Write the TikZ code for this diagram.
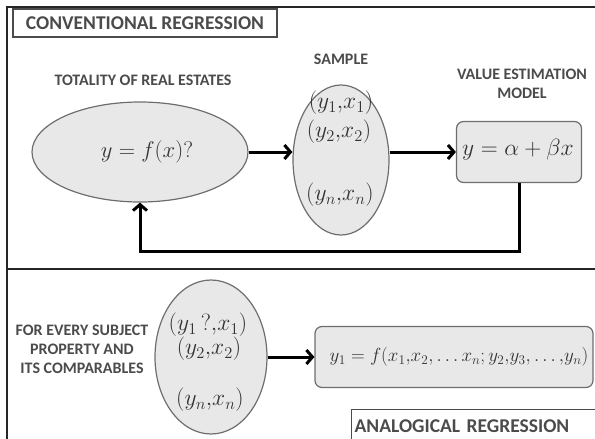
\RequirePackage{fix-cm}
\documentclass[tikz,border=0pt]{standalone}
\usepackage{fontspec}
\setmainfont{Carlito}
\usetikzlibrary{arrows.meta,shapes.geometric}
\definecolor{shade}{RGB}{232,232,232}
\definecolor{edge}{RGB}{110,110,110}
\definecolor{ink}{RGB}{75,75,75}
\definecolor{mink}{RGB}{50,50,50}
\begin{document}
\begin{tikzpicture}[x=1pt,y=-1pt,
  lbl/.style={font=\fontsize{16}{19}\selectfont\bfseries, text=ink, align=center},
  ttl/.style={font=\fontsize{19.5}{22}\selectfont\bfseries, text=ink, draw=ink, line width=1.2pt, inner sep=0pt},
  ell/.style={ellipse, draw=edge, fill=shade, line width=1.2pt, inner sep=0pt},
  rbox/.style={rounded corners=7pt, draw=edge, fill=shade, line width=1.2pt, inner sep=0pt},
  mth/.style={font=\fontsize{22.6}{26}\selectfont, text=mink},
  smth/.style={font=\fontsize{23.5}{26}\selectfont, text=mink},
  arr/.style={line width=3pt, -{Straight Barb[length=6pt,width=14pt,line width=3pt]}},
  frame/.style={line width=2.5pt, draw=black!85}]
\useasboundingbox (0,0) rectangle (595,439);
% frames
\coordinate (tr) at (595,7);
\coordinate (tl) at (7,7);
\coordinate (bl) at (7,439);
\coordinate (ml) at (7,269);
\coordinate (mr) at (595,269);
\draw[frame] (tr) -- (tl) -- (bl);
\draw[frame] (ml) -- (mr);
% titles
\node[ttl, minimum width=264, minimum height=28] (conv) at (145,23) {CONVENTIONAL REGRESSION};
\node[ttl, anchor=north west, minimum width=250, minimum height=34, text width=244, inner xsep=2pt, align=left] (anal) at (351,409) {ANALOGICAL REGRESSION};
% top section
\node[lbl] (totlbl) at (143,80) {TOTALITY OF REAL ESTATES};
\node[lbl] (samplbl) at (341,59) {SAMPLE};
\node[lbl] (vemlbl) at (522,84) {VALUE ESTIMATION\\MODEL};
\node[ell, minimum width=216, minimum height=100] (tot) at (140,152) {};
\node[mth] (totm) at (147,152) {$y=f(x)?$};
\node[ell, minimum width=96, minimum height=150] (samp) at (341,160) {};
\node[smth] (s1) at (341,103) {$(y_1{,}x_1)$};
\node[smth] (s2) at (339,132) {$(y_2{,}x_2)$};
\node[smth] (s3) at (340,195) {$(y_n{,}x_n)$};
\node[rbox, minimum width=125, minimum height=61] (model) at (519,152) {};
\node[font=\fontsize{23.5}{26}\selectfont, text=mink] (modm) at (518,150) {$y=\alpha+\beta x$};
\draw[arr] (tot.east) -- (tot.east -| samp.west);
\draw[arr] (model.west -| samp.east) -- (model.west);
\draw[arr] (model.south) -- ++(0,68) -| (tot.south);
% bottom section
\node[lbl] (forlbl) at (82,349) {FOR EVERY SUBJECT\\PROPERTY AND\\ITS COMPARABLES};
\node[ell, minimum width=112, minimum height=154] (subj) at (211,357) {};
\node[smth] (b1) at (208,325) {$(y_1\,?{,}x_1)$};
\node[smth] (b2) at (209,349) {$(y_2{,}x_2)$};
\node[smth] (b3) at (210,400) {$(y_n{,}x_n)$};
\node[rbox, minimum width=278, minimum height=61] (anbox) at (454,357) {};
\node[font=\fontsize{19}{22}\selectfont, text=mink] (anm) at (459,357) {$y_1=f(x_1{,}x_2{,}\ldots x_n;y_2{,}y_3{,}\ldots{,}y_n)$};
\draw[arr] (subj.east) -- (anbox.west);
\end{tikzpicture}
\end{document}
